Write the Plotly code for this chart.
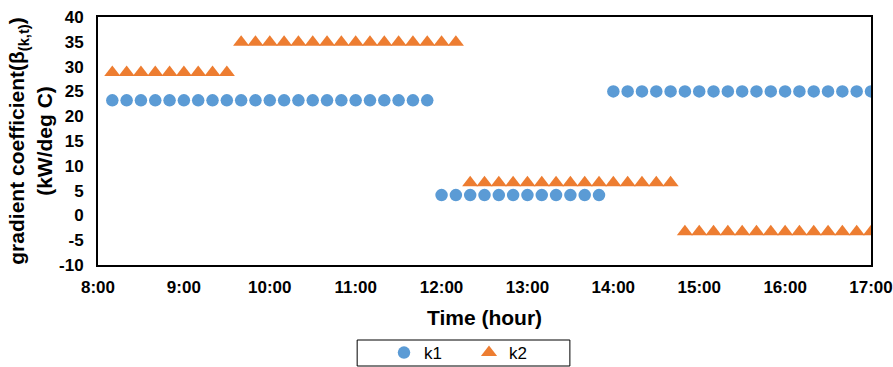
import plotly.graph_objects as go

# Time of day in hours (10-minute steps) and gradient coefficients per segment
k1_times = [
    [8 + i / 6 for i in range(1, 24)],          # 8:10 - 11:50
    [12 + i / 6 for i in range(0, 12)],         # 12:00 - 13:50
    [14 + i / 6 for i in range(0, 19)],         # 14:00 - 17:00
]
k1_levels = [23.2, 4.1, 25.0]

k2_times = [
    [8 + i / 6 for i in range(1, 10)],          # 8:10 - 9:30
    [9 + 4 / 6 + i / 6 for i in range(0, 16)],  # 9:40 - 12:10
    [12 + 2 / 6 + i / 6 for i in range(0, 15)], # 12:20 - 14:40
    [14 + 5 / 6 + i / 6 for i in range(0, 14)], # 14:50 - 17:00
]
k2_levels = [28.8, 34.9, 6.6, -3.3]

tick_hours = list(range(8, 18))
tick_labels = [f"{h}:00" for h in tick_hours]
y_ticks = list(range(-10, 45, 5))
y_tick_labels = [str(v) for v in y_ticks]

BLUE = "#5B9BD5"
ORANGE = "#ED7D31"
FONT = "Liberation Sans"

W, H = 893, 367
L, R, T, B = 97.5, 21.5, 17, 102


def expand(times, levels):
    xs, ys = [], []
    for t, v in zip(times, levels):
        xs += t
        ys += [v] * len(t)
    return xs, ys


x1, y1 = expand(k1_times, k1_levels)
x2, y2 = expand(k2_times, k2_levels)

fig = go.Figure()
fig.add_trace(go.Scatter(
    x=x1, y=y1, mode="markers", name="k1",
    marker=dict(symbol="circle", size=12.5, color=BLUE),
))
fig.add_trace(go.Scatter(
    x=x2, y=y2, mode="markers", name="k2",
    marker=dict(symbol="triangle-up", size=14, color=ORANGE),
))

fig.update_layout(
    width=W, height=H,
    margin=dict(l=L, r=R, t=T, b=B, autoexpand=False),
    paper_bgcolor="white", plot_bgcolor="white",
    font=dict(family=FONT, color="black"),
    showlegend=True,
    legend=dict(
        orientation="h", xref="container", yref="container",
        x=384 / W, xanchor="left", y=1 - 353 / H, yanchor="middle",
        font=dict(family=FONT, size=17, color="black"),
        itemwidth=30, entrywidth=40, traceorder="normal",
        bgcolor="rgba(0,0,0,0)",
    ),
    xaxis=dict(
        range=[8, 17], tickvals=tick_hours, ticktext=tick_labels,
        showgrid=False, zeroline=False, showline=True, mirror=True,
        linecolor="black", linewidth=2, ticks="", automargin=False,
        ticklabelstandoff=6,
        tickfont=dict(family=FONT, size=17, color="black", weight="bold"),
        title=dict(text="<b>Time (hour)</b>", font=dict(family=FONT, size=21), standoff=14),
    ),
    yaxis=dict(
        range=[-10, 40], tickvals=y_ticks, ticktext=y_tick_labels,
        showgrid=False, zeroline=False, showline=True, mirror=True,
        linecolor="black", linewidth=2, ticks="", automargin=False,
        ticklabelstandoff=9,
        tickfont=dict(family=FONT, size=17, color="black", weight="bold"),
        title=dict(
            text="<b>gradient coefficient(β<sub>(k,t)</sub>)<br>(kW/deg C)</b>",
            font=dict(family=FONT, size=21), standoff=1,
        ),
    ),
    shapes=[dict(
        type="rect", xref="paper", yref="paper",
        x0=(357 - L) / (W - L - R), x1=(570 - L) / (W - L - R),
        y0=-(366 - (H - B)) / (H - T - B), y1=-(340 - (H - B)) / (H - T - B),
        line=dict(color="black", width=1), fillcolor="rgba(0,0,0,0)",
    )],
)

fig.write_html("out.html")
